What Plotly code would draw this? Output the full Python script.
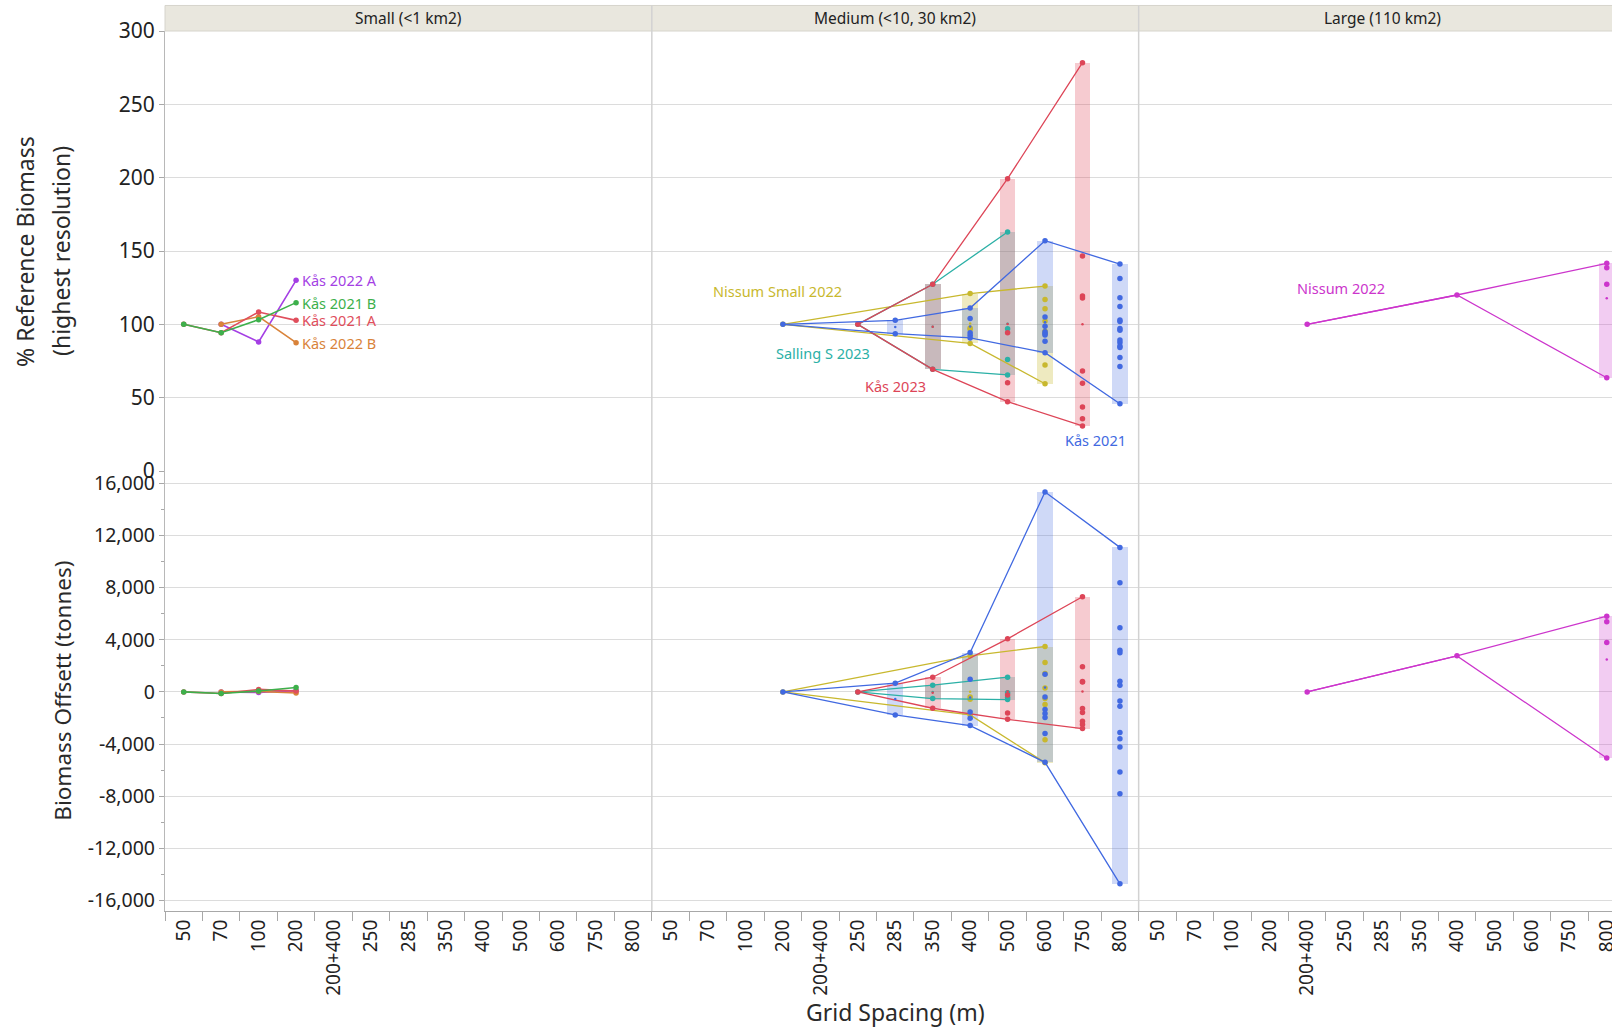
import plotly.graph_objects as go

# ---- categories and facets -------------------------------------------------
CATEGORIES = ["50", "70", "100", "200", "200+400", "250", "285", "350",
              "400", "500", "600", "750", "800"]
PANELS = ["Small (<1 km2)", "Medium (<10, 30 km2)", "Large (110 km2)"]

# ---- Small (<1 km2) surveys: % of reference biomass / offset (tonnes) -----
KAS_2022A_PCT = {"70": [100], "100": [88], "200": [130]}
KAS_2022A_OFF = {"70": [0], "100": [-40], "200": [100]}
KAS_2021B_PCT = {"50": [100], "70": [94.3], "100": [103.2], "200": [114.8]}
KAS_2021B_OFF = {"50": [0], "70": [-128], "100": [72], "200": [333]}
KAS_2021A_PCT = {"50": [100], "70": [94.3], "100": [108.4], "200": [102.7]}
KAS_2021A_OFF = {"50": [0], "70": [-128], "100": [190], "200": [60]}
KAS_2022B_PCT = {"70": [100], "100": [105.2], "200": [87.5]}
KAS_2022B_OFF = {"70": [0], "100": [40], "200": [-80]}

# ---- Medium (<10, 30 km2) surveys -------------------------------------------
NISSUM_SMALL_2022_PCT = {"200": [100],
                         "400": [121, 97.5, 96.6, 87],
                         "600": [126.1, 117, 110.7, 102.3, 95.2, 93.4, 72.3, 59.5]}
NISSUM_SMALL_2022_OFF = {"200": [0],
                         "400": [2765, -384, -563, -1766],
                         "600": [3482, 2253, 1408, 307, -512, -973, -3661, -5427]}
SALLING_S_2023_PCT = {"250": [100], "350": [127.3, 69.3],
                      "500": [163, 97, 76.1, 65.5]}
SALLING_S_2023_OFF = {"250": [0], "350": [512, -512],
                      "500": [1126, -60, -435, -589]}
KAS_2023_PCT = {"250": [100], "350": [127.3, 69.3],
                "500": [199.3, 94.3, 60.2, 47.3],
                "750": [278.4, 146.6, 119.3, 118, 68.2, 59.8, 43.6, 35.7, 30.7]}
KAS_2023_OFF = {"250": [0], "350": [1126, -1254],
                "500": [4070, -233, -1613, -2099],
                "750": [7296, 1920, 790, 768, -1280, -1587, -2253, -2509, -2816]}
KAS_2021_PCT = {"200": [100], "285": [102.7, 93.6],
                "400": [111.1, 103.9, 94.3, 92.5, 90.7],
                "600": [157, 105, 98.7, 95, 93.8, 92.7, 88.5, 80.7],
                "800": [141.1, 131.2, 118.2, 112.1, 103, 101.9, 97.1, 96, 89.4,
                        87.6, 85.3, 84.2, 77.4, 71.2, 45.9]}
KAS_2021_OFF = {"200": [0], "285": [666, -1766],
                "400": [3021, 973, -1540, -2025, -2586],
                "600": [15334, 1350, -384, -1357, -1664, -1971, -3200, -5400],
                "800": [11085, 8371, 4915, 3200, 2995, 819, 512, -691, -1101,
                        -3123, -3584, -4224, -6144, -7808, -14720]}

# ---- Large (110 km2) survey -------------------------------------------------
NISSUM_2022_PCT = {"200+400": [100], "400": [120], "800": [141.6, 138.6, 127.3, 63.6]}
NISSUM_2022_OFF = {"200+400": [0], "400": [2765], "800": [5811, 5376, 3789, -5069]}

# name, facet index, colour, band alpha, % series, offset series
SERIES = [
    ("Kås 2022 A", 0, "#A43FE4", 0.25, KAS_2022A_PCT, KAS_2022A_OFF),
    ("Kås 2022 B", 0, "#D9833A", 0.25, KAS_2022B_PCT, KAS_2022B_OFF),
    ("Kås 2021 A", 0, "#E04E5C", 0.25, KAS_2021A_PCT, KAS_2021A_OFF),
    ("Kås 2021 B", 0, "#3DB04B", 0.25, KAS_2021B_PCT, KAS_2021B_OFF),
    ("Nissum Small 2022", 1, "#C8B82E", 0.30, NISSUM_SMALL_2022_PCT, NISSUM_SMALL_2022_OFF),
    ("Salling S 2023", 1, "#2BB0A6", 0.30, SALLING_S_2023_PCT, SALLING_S_2023_OFF),
    ("Kås 2023", 1, "#DD4557", 0.28, KAS_2023_PCT, KAS_2023_OFF),
    ("Kås 2021", 1, "#4169E1", 0.25, KAS_2021_PCT, KAS_2021_OFF),
    ("Nissum 2022", 2, "#CC35CC", 0.25, NISSUM_2022_PCT, NISSUM_2022_OFF),
]

# label placement for the medium / large facets (x in category slots, y in %)
FREE_LABELS = {
    "Nissum Small 2022": (15.85, 122.6),
    "Salling S 2023": (17.08, 80.3),
    "Kås 2023": (19.02, 58.0),
    "Kås 2021": (24.36, 21.2),
    "Nissum 2022": (30.91, 124.8),
}

FONT = "Noto Sans, Open Sans, sans-serif"
NCAT = len(CATEGORIES)


def xpos(panel, cat):
    return panel * NCAT + CATEGORIES.index(cat)


def rgba(hex_color, alpha):
    h = hex_color.lstrip("#")
    r, g, b = int(h[0:2], 16), int(h[2:4], 16), int(h[4:6], 16)
    return f"rgba({r},{g},{b},{alpha})"


fig = go.Figure()

# range bands (min..max at each spacing)
for name, panel, color, alpha, pct, off in SERIES:
    for data, yax in ((pct, "y"), (off, "y2")):
        cats = [c for c in CATEGORIES if c in data and len(data[c]) > 1]
        if not cats:
            continue
        fig.add_trace(go.Bar(
            x=[xpos(panel, c) for c in cats],
            y=[max(data[c]) - min(data[c]) for c in cats],
            base=[min(data[c]) for c in cats],
            width=0.42, marker=dict(color=rgba(color, alpha), line=dict(width=0)),
            xaxis="x", yaxis=yax, hoverinfo="skip", showlegend=False))

# envelope lines, individual estimates and mean ticks
for name, panel, color, alpha, pct, off in SERIES:
    lw = 1.6 if panel == 0 else 1.3
    for data, yax in ((pct, "y"), (off, "y2")):
        cats = [c for c in CATEGORIES if c in data]
        xs = [xpos(panel, c) for c in cats]
        hi = [max(data[c]) for c in cats]
        lo = [min(data[c]) for c in cats]
        envelopes = [hi] if hi == lo else [hi, lo]
        for env in envelopes:
            fig.add_trace(go.Scatter(
                x=xs, y=env, mode="lines", line=dict(color=color, width=lw),
                xaxis="x", yaxis=yax, hoverinfo="skip", showlegend=False))
        px = [xpos(panel, c) for c in cats for _ in data[c]]
        py = [v for c in cats for v in data[c]]
        fig.add_trace(go.Scatter(
            x=px, y=py, mode="markers", name=name,
            marker=dict(color=color, size=5.5),
            xaxis="x", yaxis=yax, showlegend=False))
        mc = [c for c in cats if len(data[c]) > 1]
        if mc:
            fig.add_trace(go.Scatter(
                x=[xpos(panel, c) for c in mc],
                y=[sum(data[c]) / len(data[c]) for c in mc],
                mode="markers", marker=dict(color=color, size=2.5),
                xaxis="x", yaxis=yax, hoverinfo="skip", showlegend=False))

# series labels
annotations = []
for name, panel, color, alpha, pct, off in SERIES:
    if name in FREE_LABELS:
        lx, ly = FREE_LABELS[name]
        annotations.append(dict(x=lx, y=ly, xref="x", yref="y", text=name,
                                showarrow=False, xanchor="center", yanchor="middle",
                                font=dict(family=FONT, size=14.5, color=color)))
    else:
        last = [c for c in CATEGORIES if c in pct][-1]
        annotations.append(dict(x=xpos(panel, last), y=pct[last][0], xref="x", yref="y",
                                text=name, showarrow=False, xanchor="left",
                                yanchor="middle", xshift=4,
                                font=dict(family=FONT, size=14.5, color=color)))

# facet strip titles
STRIP_TOP = 1.029
for i, title in enumerate(PANELS):
    annotations.append(dict(x=i * NCAT + (NCAT - 1) / 2, y=(1 + STRIP_TOP) / 2,
                            xref="x", yref="paper", text=title, showarrow=False,
                            xanchor="center", yanchor="middle",
                            font=dict(family=FONT, size=15.5, color="#222222")))

# axis titles
TITLE_FONT = dict(family=FONT, size=23, color="#2a2a2a")
annotations += [
    dict(x=-0.0963, y=0.7497, xref="paper", yref="paper", text="% Reference Biomass",
         textangle=-90, showarrow=False, xanchor="center", yanchor="middle", font=TITLE_FONT),
    dict(x=-0.0714, y=0.7497, xref="paper", yref="paper", text="(highest resolution)",
         textangle=-90, showarrow=False, xanchor="center", yanchor="middle", font=TITLE_FONT),
    dict(x=-0.0714, y=0.25, xref="paper", yref="paper", text="Biomass Offsett (tonnes)",
         textangle=-90, showarrow=False, xanchor="center", yanchor="middle",
         font=dict(family=FONT, size=22.5, color="#2a2a2a")),
    dict(x=0.5045, y=-0.1148, xref="paper", yref="paper", text="Grid Spacing (m)",
         showarrow=False, xanchor="center", yanchor="middle",
         font=dict(family=FONT, size=23, color="#2a2a2a")),
]

shapes = [
    dict(type="rect", xref="paper", yref="paper", x0=0, x1=1.01, y0=1, y1=STRIP_TOP,
         fillcolor="#E9E7DE", line=dict(color="#D6D4CC", width=1), layer="below"),
]
for b in (NCAT - 0.5, 2 * NCAT - 0.5):
    shapes.append(dict(type="line", xref="x", yref="paper", x0=b, x1=b, y0=0, y1=STRIP_TOP,
                       line=dict(color="#D2D2D2", width=1.5)))

offset_ticks = list(range(-16000, 16001, 4000))
fig.update_layout(
    width=1612, height=1029,
    margin=dict(l=165, r=0, t=31, b=118, autoexpand=False),
    paper_bgcolor="white", plot_bgcolor="white",
    barmode="overlay", bargap=0, showlegend=False,
    font=dict(family=FONT, color="#222222"),
    annotations=annotations, shapes=shapes,
    xaxis=dict(
        domain=[0, 1], anchor="y2", range=[-0.5, 38.14], automargin=False,
        tickmode="array", tickvals=list(range(3 * NCAT)), ticktext=CATEGORIES * 3,
        tickangle=-90, ticks="", showgrid=False, zeroline=False,
        showline=True, linecolor="#A8A8A8", linewidth=1.2,
        ticklabeloverflow="allow",
        tickfont=dict(family=FONT, size=19, color="#222222"),
        minor=dict(tickmode="array", tickvals=[i - 0.5 for i in range(3 * NCAT + 1)],
                   ticks="outside", ticklen=9, tickcolor="#A8A8A8", tickwidth=1,
                   showgrid=False),
    ),
    yaxis=dict(
        domain=[0.5, 1], anchor="x", range=[0, 300], tickmode="linear", tick0=0, dtick=50,
        automargin=False,
        showgrid=True, gridcolor="#DCDCDC", gridwidth=1.3, zeroline=False,
        showline=True, linecolor="#B8B8B8", linewidth=1.2,
        ticks="outside", ticklen=5, tickcolor="#A8A8A8",
        tickfont=dict(family=FONT, size=21, color="#222222"),
    ),
    yaxis2=dict(
        domain=[0, 0.5], anchor="x", range=[-16805, 16943], automargin=False,
        tickmode="array", tickvals=offset_ticks,
        ticktext=[f"{v:,}" for v in offset_ticks],
        showgrid=True, gridcolor="#DCDCDC", gridwidth=1.3, zeroline=False,
        showline=True, linecolor="#B8B8B8", linewidth=1.2,
        ticks="outside", ticklen=5, tickcolor="#A8A8A8",
        tickfont=dict(family=FONT, size=19.5, color="#222222"),
        minor=dict(tickmode="array", tickvals=list(range(-14000, 14001, 4000)),
                   ticks="outside", ticklen=3, tickcolor="#A8A8A8", showgrid=False),
    ),
)

fig.write_html("out.html")
